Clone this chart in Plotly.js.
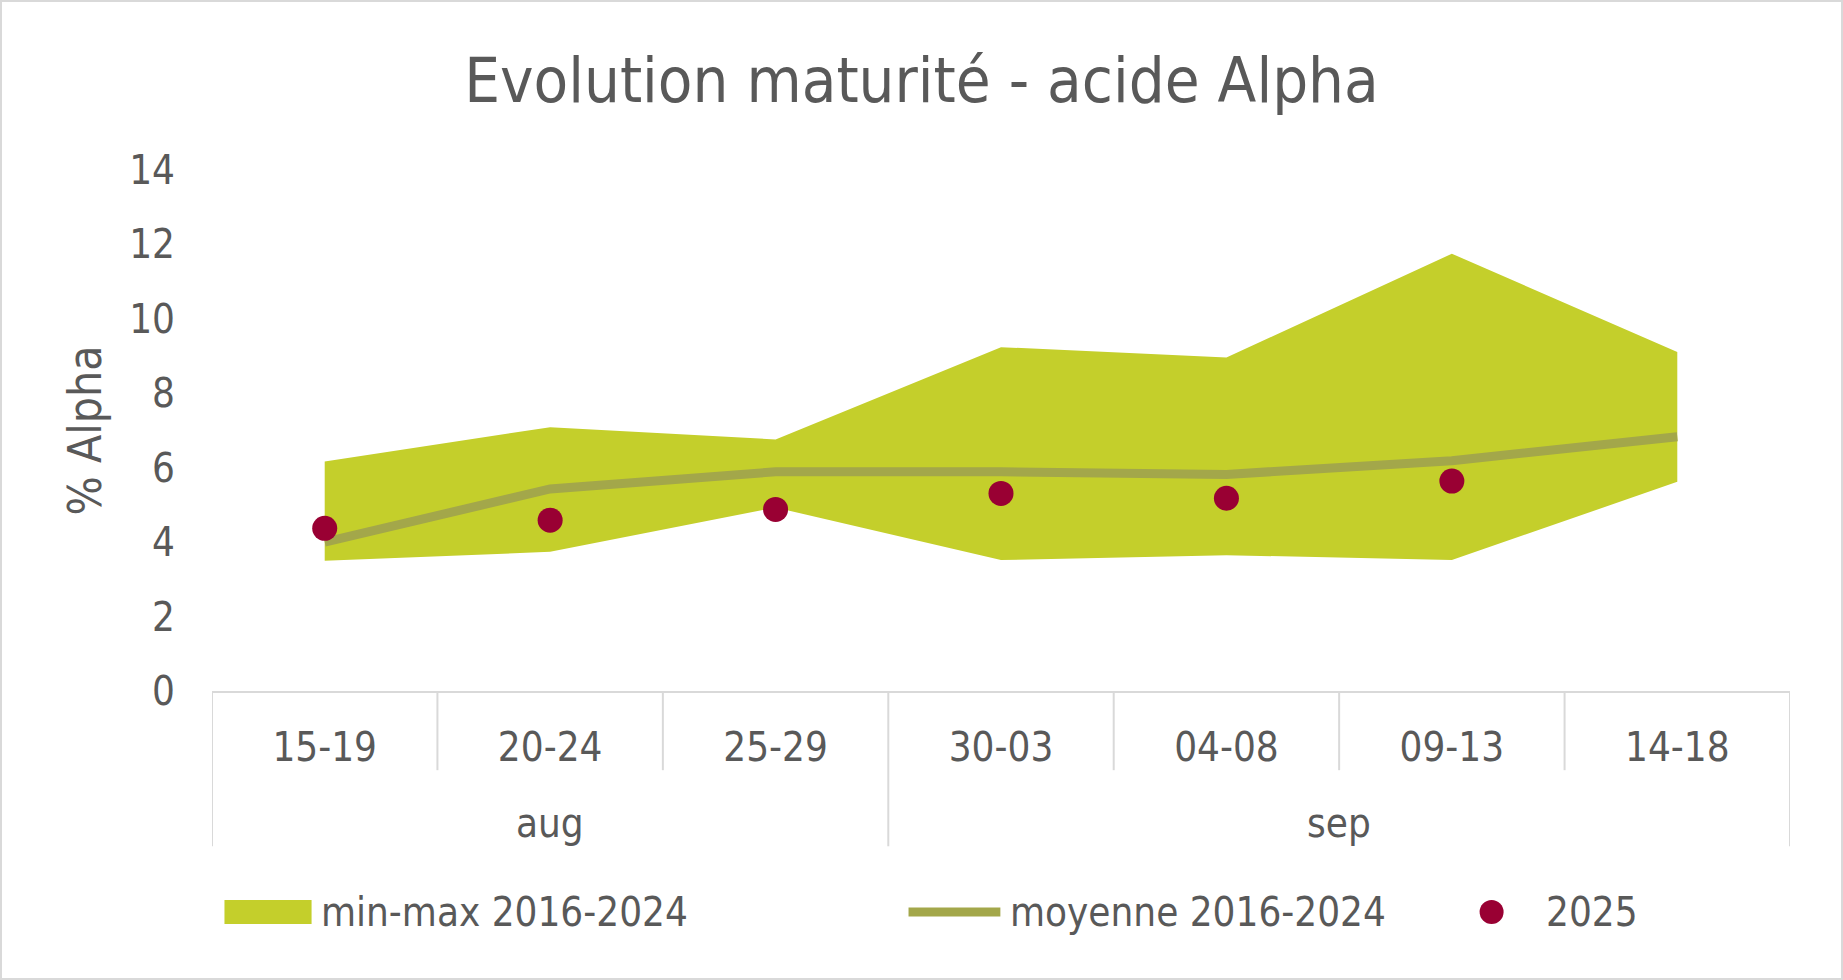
<!DOCTYPE html>
<html>
<head>
<meta charset="utf-8">
<script src="https://cdn.plot.ly/plotly-3.0.1.min.js"></script>
<style>
  html, body { margin: 0; padding: 0; background: #ffffff; }
  #frame { position: relative; width: 1843px; height: 980px; }
  #chart { width: 1843px; height: 980px; }
  #frame::after {
    content: "";
    position: absolute;
    inset: 0;
    border: 2px solid #D9D9D9;
    pointer-events: none;
  }
</style>
</head>
<body>
<div id="frame"><div id="chart"></div></div>
<script>
const MONTHS = ["aug", "aug", "aug", "sep", "sep", "sep", "sep"];
const PERIODS = ["15-19", "20-24", "25-29", "30-03", "04-08", "09-13", "14-18"];
const MIN_2016_2024 = [3.5, 3.74, 4.93, 3.52, 3.65, 3.52, 5.62];
const MAX_2016_2024 = [6.17, 7.09, 6.76, 9.24, 8.96, 11.75, 9.11];
const MEAN_2016_2024 = [4.0, 5.43, 5.89, 5.89, 5.82, 6.19, 6.83];
const VALUES_2025 = [4.37, 4.59, 4.88, 5.31, 5.18, 5.64, null];

const SERIES_NAMES = ["min-max 2016-2024", "moyenne 2016-2024", "2025"];

const FONT = "'DejaVu Sans Condensed', 'Noto Sans', sans-serif";
const TEXT_COLOR = "#595959";
const AXIS_COLOR = "#D9D9D9";
const BAND_COLOR = "#C4CF2B";
const MEAN_COLOR = "#A3A74A";
const DOT_COLOR = "#990033";

const xIdx = PERIODS.map((_, i) => i);

const traces = [
  {
    type: "scatter",
    mode: "lines",
    x: xIdx,
    y: MIN_2016_2024,
    line: { width: 0, color: BAND_COLOR },
    hoverinfo: "skip",
  },
  {
    type: "scatter",
    mode: "lines",
    name: SERIES_NAMES[0],
    x: xIdx,
    y: MAX_2016_2024,
    fill: "tonexty",
    fillcolor: BAND_COLOR,
    line: { width: 0, color: BAND_COLOR },
  },
  {
    type: "scatter",
    mode: "lines",
    name: SERIES_NAMES[1],
    x: xIdx,
    y: MEAN_2016_2024,
    line: { width: 9, color: MEAN_COLOR },
  },
  {
    type: "scatter",
    mode: "markers",
    name: SERIES_NAMES[2],
    x: xIdx,
    y: VALUES_2025,
    marker: { size: 25, color: DOT_COLOR },
  },
];

// divider lines under the category axis, from the index of each category
function buildDividers() {
  const shapes = [];
  const inner = -0.152;
  const outer = -0.298;
  for (let i = 0; i <= PERIODS.length; i++) {
    const edge = i === 0 || i === PERIODS.length || MONTHS[i] !== MONTHS[i - 1];
    shapes.push({
      type: "line",
      xref: "x",
      yref: "paper",
      x0: i - 0.5,
      x1: i - 0.5,
      y0: 0,
      y1: edge ? outer : inner,
      line: { color: AXIS_COLOR, width: 2 },
    });
  }
  return shapes;
}

function buildMonthLabels() {
  const groups = [];
  MONTHS.forEach((m, i) => {
    const last = groups[groups.length - 1];
    if (last && last.month === m) last.end = i;
    else groups.push({ month: m, start: i, end: i });
  });
  return groups.map((g) => ({
    text: g.month,
    xref: "x",
    yref: "paper",
    x: (g.start + g.end) / 2,
    y: -0.254,
    yanchor: "middle",
    showarrow: false,
    font: { family: FONT, size: 40, color: TEXT_COLOR },
  }));
}

// legend row drawn like the Excel one: big swatches under the axis
const LEGEND_Y = -0.424;

function buildLegendShapes() {
  return [
    {
      type: "rect",
      xref: "paper",
      yref: "paper",
      x0: 0.0079,
      x1: 0.0631,
      y0: LEGEND_Y - 0.023,
      y1: LEGEND_Y + 0.023,
      fillcolor: BAND_COLOR,
      line: { width: 0 },
    },
    {
      type: "line",
      xref: "paper",
      yref: "paper",
      x0: 0.4414,
      x1: 0.4996,
      y0: LEGEND_Y,
      y1: LEGEND_Y,
      line: { color: MEAN_COLOR, width: 9 },
    },
    {
      type: "circle",
      xref: "paper",
      yref: "paper",
      xsizemode: "pixel",
      ysizemode: "pixel",
      xanchor: 0.8109,
      yanchor: LEGEND_Y,
      x0: -12,
      x1: 12,
      y0: -12,
      y1: 12,
      fillcolor: DOT_COLOR,
      line: { width: 0 },
    },
  ];
}

function buildLegendLabels() {
  const starts = [0.068, 0.5045, 0.8442];
  return SERIES_NAMES.map((name, i) => ({
    text: name,
    xref: "paper",
    yref: "paper",
    x: starts[i],
    xanchor: "left",
    y: LEGEND_Y,
    yanchor: "middle",
    showarrow: false,
    font: { family: FONT, size: 40, color: TEXT_COLOR },
  }));
}

const layout = {
  width: 1843,
  height: 980,
  paper_bgcolor: "#ffffff",
  plot_bgcolor: "#ffffff",
  margin: { l: 212, r: 53, t: 170, b: 289 },
  showlegend: false,
  title: {
    text: "Evolution maturité - acide Alpha",
    font: { family: FONT, size: 63, color: TEXT_COLOR },
    x: 0.5,
    xanchor: "center",
    y: 0.918,
    yanchor: "middle",
  },
  xaxis: {
    range: [-0.5, PERIODS.length - 0.5],
    tickmode: "array",
    tickvals: xIdx,
    ticktext: PERIODS,
    ticks: "",
    showgrid: false,
    zeroline: false,
    showline: true,
    linecolor: AXIS_COLOR,
    linewidth: 2,
    ticklabelstandoff: 20,
    tickfont: { family: FONT, size: 40, color: TEXT_COLOR },
    fixedrange: true,
  },
  yaxis: {
    range: [0, 14],
    dtick: 2,
    tick0: 0,
    ticks: "",
    showgrid: false,
    zeroline: false,
    showline: false,
    ticklabelstandoff: 36,
    tickfont: { family: FONT, size: 40, color: TEXT_COLOR },
    title: {
      text: "% Alpha",
      font: { family: FONT, size: 46, color: TEXT_COLOR },
      standoff: 13,
    },
    fixedrange: true,
  },
  shapes: buildDividers().concat(buildLegendShapes()),
  annotations: buildMonthLabels().concat(buildLegendLabels()),
};

Plotly.newPlot("chart", traces, layout, { displayModeBar: false, staticPlot: true });
</script>
</body>
</html>
